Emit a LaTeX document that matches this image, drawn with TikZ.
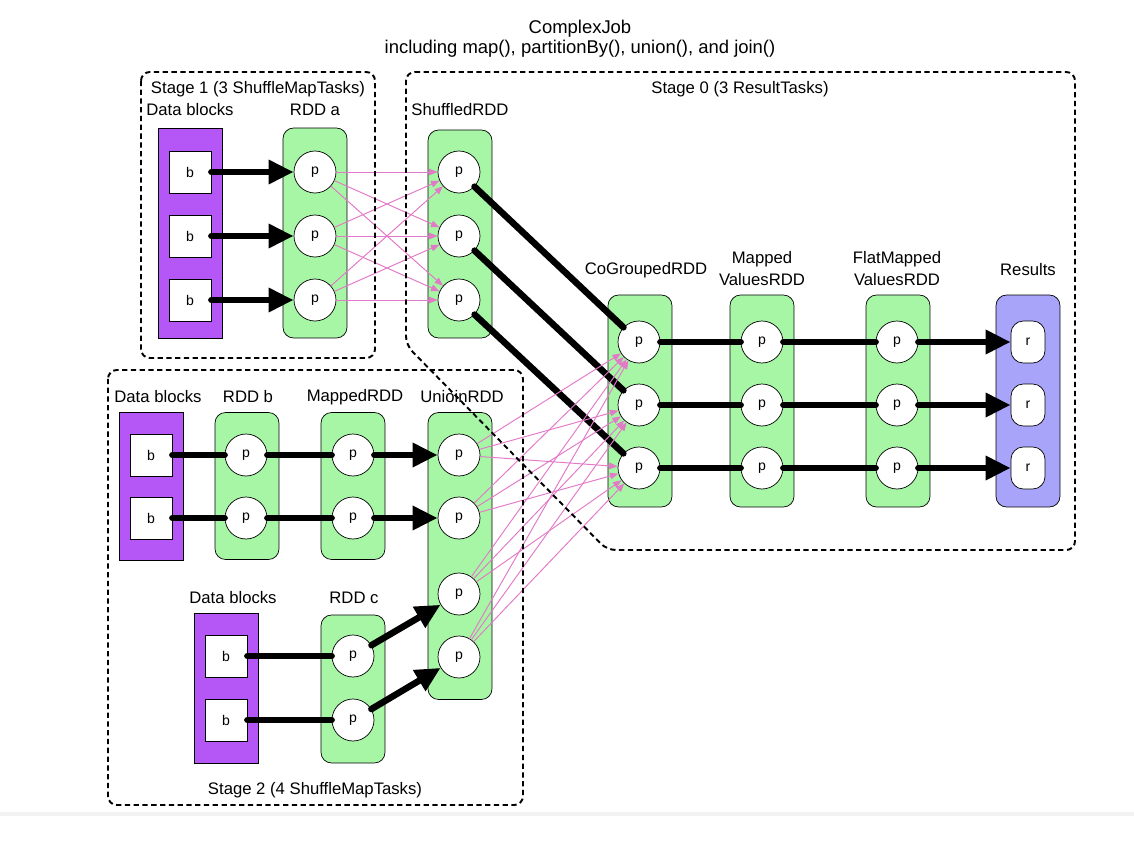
\documentclass[tikz,border=0pt]{standalone}
\usepackage{fontspec}
\setmainfont{Liberation Sans}
\usepackage{xcolor}
\usepackage{tikz}
\usetikzlibrary{arrows.meta, positioning, calc}
\definecolor{rddgreen}{RGB}{166,246,166}
\definecolor{blockpurple}{RGB}{181,86,247}
\definecolor{resultblue}{RGB}{168,164,250}
\definecolor{shufflepink}{RGB}{226,122,200}

\begin{document}
\begin{tikzpicture}[
    x=0.02cm, y=-0.02cm,
    font=\fontsize{9.5}{12.5}\selectfont,
    stagebox/.style={draw, line width=1.1pt, dash pattern=on 3pt off 2pt, rounded corners=5pt},
    rdd/.style={draw, fill=rddgreen, rounded corners=6pt, minimum width=1.28cm, inner sep=0pt},
    blocks/.style={draw, fill=blockpurple, minimum width=1.28cm, inner sep=0pt},
    results/.style={draw, fill=resultblue, rounded corners=6pt, minimum width=1.28cm, inner sep=0pt},
    part/.style={draw, circle, fill=white, minimum size=0.84cm, inner sep=0pt, font=\footnotesize},
    blk/.style={draw, fill=white, minimum size=0.84cm, inner sep=0pt, font=\footnotesize},
    res/.style={draw, fill=white, rounded corners=7pt, minimum width=0.68cm, minimum height=0.84cm, inner sep=0pt, font=\footnotesize},
    dep/.style={line width=3.7pt, line cap=round},
    deparrow/.style={dep, -{Triangle[length=0.5cm, width=0.46cm]}},
    shuffle/.style={draw=shufflepink, line width=0.55pt, -{Triangle[length=0.17cm, width=0.13cm, fill=shufflepink]}},
    heading/.style={font=\fontsize{10.5}{12}\selectfont, anchor=base}
]
    \useasboundingbox (0,0) rectangle (1134,842);
    \fill[black!5] (0,812) rectangle (1134,816);

    % Title
    \node[heading] (title) at (580,33) {ComplexJob};
    \node[heading] (subtitle) at (580,53) {including map(), partitionBy(), union(), and join()};

    % Column captions
    \node (capBlkA) at (190,110) {Data blocks};
    \node (capA) at (315,110) {RDD a};
    \node (capShuf) at (460,110) {ShuffledRDD};
    \node (capCg) at (646,270) {CoGroupedRDD};
    \node[align=center] (capMv) at (762,269) {Mapped\\ValuesRDD};
    \node[align=center] (capFm) at (897,269) {FlatMapped\\ValuesRDD};
    \node (capRes) at (1028,270) {Results};
    \node (capBlkB) at (158,397) {Data blocks};
    \node (capB) at (248,397) {RDD b};
    \node (capMap) at (355,397) {MappedRDD};
    \node (capUnion) at (462,397) {UnioinRDD};
    \node (capBlkC) at (233,598) {Data blocks};
    \node (capC) at (354,598) {RDD c};

    % Containers
    \node[blocks, minimum height=4.2cm] (blkA) at (190,233) {};
    \node[rdd, minimum height=4.2cm] (rddA) at (315,233) {};
    \node[rdd, minimum height=4.16cm] (shuf) at (460,234) {};
    \node[rdd, minimum height=4.24cm] (cogroup) at (640,401) {};
    \node[rdd, minimum height=4.24cm] (mapval) at (762,401) {};
    \node[rdd, minimum height=4.24cm] (flatval) at (898,401) {};
    \node[results, minimum height=4.24cm] (results) at (1028,401) {};
    \node[blocks, minimum height=2.96cm] (blkB) at (151,486) {};
    \node[rdd, minimum height=2.94cm] (rddB) at (247,486) {};
    \node[rdd, minimum height=2.94cm] (mapped) at (353,486) {};
    \node[rdd, minimum height=5.74cm] (union) at (460,556) {};
    \node[blocks, minimum height=3cm] (blkC) at (226,688) {};
    \node[rdd, minimum height=2.96cm] (rddC) at (353,689) {};

    % Partitions
    \foreach \i/\y in {1/172, 2/236, 3/300} {
        \node[blk] (ba\i) at (190,\y) {b};
        \node[part] (a\i) at (315,\y) {p};
        \node[part] (s\i) at (459,\y) {p};
    }
    \foreach \i/\y in {1/342, 2/405, 3/468} {
        \node[part] (cg\i) at (639,\y) {p};
        \node[part] (mv\i) at (762,\y) {p};
        \node[part] (fm\i) at (897,\y) {p};
        \node[res] (r\i) at (1028,\y) {r};
    }
    \foreach \i/\y in {1/455, 2/518} {
        \node[blk] (bb\i) at (151,\y) {b};
        \node[part] (b\i) at (246,\y) {p};
        \node[part] (m\i) at (353,\y) {p};
    }
    \foreach \i/\y in {1/455, 2/518, 3/594, 4/657}
        \node[part] (u\i) at (459,\y) {p};
    \foreach \i/\y in {1/656, 2/720} {
        \node[blk] (bc\i) at (226,\y) {b};
        \node[part] (c\i) at (353,\y) {p};
    }

    % Dependencies
    \foreach \i in {1,2,3} {
        \draw[deparrow] (ba\i) -- (a\i);
        \draw[dep] (s\i) -- (cg\i);
        \draw[dep] (cg\i) -- (mv\i);
        \draw[dep] (mv\i) -- (fm\i);
        \draw[deparrow] (fm\i) -- (r\i);
        \foreach \j in {1,2,3}
            \draw[shuffle] (a\i) -- (s\j);
    }
    \foreach \i in {1,2} {
        \draw[dep] (bb\i) -- (b\i);
        \draw[dep] (b\i) -- (m\i);
        \draw[deparrow] (m\i) -- (u\i);
        \draw[dep] (bc\i) -- (c\i);
    }
    \draw[deparrow] (c1) -- (u3);
    \draw[deparrow] (c2) -- (u4);
    \foreach \i in {1,...,4}
        \foreach \j in {1,2,3}
            \draw[shuffle] (u\i) -- (cg\j);

    % Stages
    \draw[stagebox] (141,72) rectangle (375,358);
    \draw[stagebox] (406,72) -- (1075,72) -- (1075,550) -- (607,550) -- (406,345) -- cycle;
    \draw[stagebox] (108,370) rectangle (523,805);
    \node (stage1) at (258,89) {Stage 1 (3 ShuffleMapTasks)};
    \node (stage0) at (740,89) {Stage 0 (3 ResultTasks)};
    \node (stage2) at (315,790) {Stage 2 (4 ShuffleMapTasks)};
\end{tikzpicture}
\end{document}
